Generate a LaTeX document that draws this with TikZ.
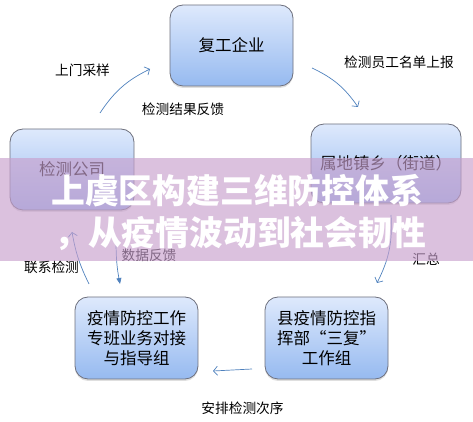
\documentclass[tikz,border=0pt]{standalone}
\usepackage{fontspec}
\setmainfont{Noto Sans CJK SC}
\usetikzlibrary{arrows.meta,shadows}

\definecolor{boxtop}{RGB}{222,233,252}
\definecolor{boxbot}{RGB}{150,186,240}
\definecolor{boxline}{RGB}{110,112,125}
\definecolor{flowblue}{RGB}{79,129,189}
\definecolor{bannerpink}{RGB}{200,160,205}

\tikzset{
  stagebox/.style={draw=boxline, line width=0.8pt, rounded corners=13pt,
    top color=boxtop, bottom color=boxbot, minimum width=123pt,
    minimum height=81pt, align=center, font=\fontsize{16.5}{20}\selectfont,
    drop shadow={shadow xshift=0pt, shadow yshift=-2pt, opacity=0.25}},
  flowarrow/.style={draw=flowblue, line width=0.7pt,
    -{Straight Barb[length=4pt,width=9pt]}},
  flowlabel/.style={font=\fontsize{13.7}{16}\selectfont},
  titleline/.style={white, anchor=west, inner sep=0pt,
    font=\fontsize{33.8}{36}\selectfont\bfseries}
}

\begin{document}
\begin{tikzpicture}[x=1pt,y=1pt]
  \useasboundingbox (0,0) rectangle (473,422);

  %the five stages
  \node[stagebox] (firm) at (231.5,376.5) {复工企业};
  \node[stagebox, minimum width=124pt] (lab) at (72,252.5) {检测公司};
  \node[stagebox, minimum width=150pt, minimum height=79pt] (town) at (386,258.5) {属地镇乡（街道）};
  \node[stagebox, minimum height=82pt] (team) at (136.5,84) {疫情防控工作\\专班业务对接\\与指导组};
  \node[stagebox, minimum height=82pt] (hq) at (326.5,84) {县疫情防控指\\挥部“三复”\\工作组};

  %free ends of the arrows
  \coordinate (sample0) at (100,309);  \coordinate (sample1) at (150,353);
  \coordinate (list0) at (312,354);    \coordinate (list1) at (358,315);
  \coordinate (sum0) at (391,207);     \coordinate (sum1) at (377,139);
  \coordinate (order0) at (252,53);    \coordinate (order1) at (213,51);
  \coordinate (call0) at (89,138);     \coordinate (call1) at (72,190);
  \coordinate (data0) at (116,179);    \coordinate (data1) at (120,138);

  %cycle arrows
  \draw[flowarrow] (sample0) to[bend left=15] (sample1);
  \draw[flowarrow] (list0) to[bend left=15] (list1);
  \draw[flowarrow] (sum0) to[bend left=15] (sum1);
  \draw[flowarrow] (order0) -- (order1);
  \draw[flowarrow] (call0) to[bend left=8] (call1);
  \draw[draw=flowblue, line width=0.7pt, -{Triangle[length=6pt,width=5pt]}]
    (data0) to[bend right=5] (data1);

  %arrow labels
  \node[flowlabel] (sampletxt) at (82.5,352) {上门采样};
  \node[flowlabel] (backtxt) at (183,312.5) {检测结果反馈};
  \node[flowlabel] (listtxt) at (399,360) {检测员工名单上报};
  \node[flowlabel] (datatxt) at (149,167) {数据反馈};
  \node[flowlabel] (calltxt) at (51.5,155) {联系检测};
  \node[flowlabel] (sumtxt) at (426,163) {汇总};
  \node[flowlabel] (ordertxt) at (242.5,14) {安排检测次序};

  %banner over the middle
  \fill[bannerpink, opacity=0.65] (0,161) rectangle (473,264);
  \node[titleline] (title1) at (51,231) {上虞区构建三维防控体系};
  \node[titleline] (title2) at (54,188) {，从疫情波动到社会韧性};
\end{tikzpicture}
\end{document}
